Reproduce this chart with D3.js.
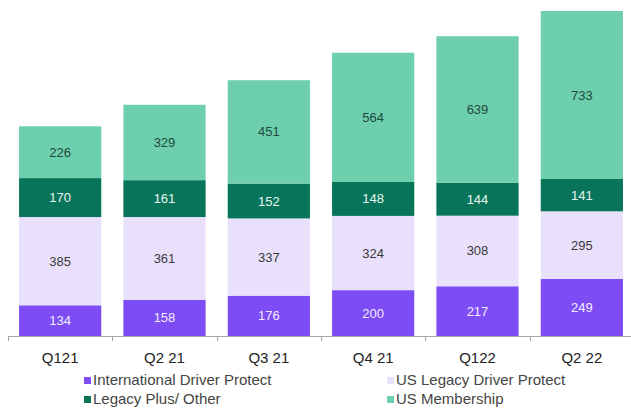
<!DOCTYPE html>
<html><head><meta charset="utf-8">
<script src="https://cdn.jsdelivr.net/npm/d3@7"></script>
<style>body{margin:0;background:#fff}svg{display:block}text{font-family:"Liberation Sans",Arial,sans-serif}</style>
</head><body><div id="c"></div>
<script>
const categories = ["Q121","Q2 21","Q3 21","Q4 21","Q122","Q2 22"];
const seriesNames = ["International Driver Protect","US Legacy Driver Protect","Legacy Plus/ Other","US Membership"];
const intlDriverProtect = [134,158,176,200,217,249];
const usLegacyDriverProtect = [385,361,337,324,308,295];
const legacyPlusOther = [170,161,152,148,144,141];
const usMembership = [226,329,451,564,639,733];
const colors = ["#7d4cf5","#e9e1fc","#08755a","#6dcfad"];
const labelColors = ["#f1ecff","#3a3a3a","#e8f5ef","#1f4a3e"];

const W=631,H=410;
const svg=d3.select("#c").append("svg").attr("width",W).attr("height",H);
const keys=["a","b","c","d"];
const rows=categories.map((c,i)=>({cat:c,a:intlDriverProtect[i],b:usLegacyDriverProtect[i],c:legacyPlusOther[i],d:usMembership[i]}));
const stack=d3.stack().keys(keys)(rows);
const x=d3.scaleBand().domain(categories).range([8,634]).paddingInner(0.212).paddingOuter(0.106);
const y=d3.scaleLinear().domain([0,1418]).range([336,11]);

stack.forEach((s,si)=>{
  const g=svg.append("g");
  g.selectAll("rect").data(s).join("rect")
    .attr("x",d=>x(d.data.cat)).attr("width",x.bandwidth())
    .attr("y",d=>y(d[1])).attr("height",d=>y(d[0])-y(d[1]))
    .attr("fill",colors[si]);
  g.selectAll("text").data(s).join("text")
    .attr("x",d=>x(d.data.cat)+x.bandwidth()/2)
    .attr("y",d=>(y(d[0])+y(d[1]))/2+4.5)
    .attr("text-anchor","middle").attr("font-size",13)
    .attr("fill",labelColors[si]).text(d=>d[1]-d[0]);
});

// axis
const step=x.step();
svg.append("line").attr("x1",8).attr("x2",634).attr("y1",336.5).attr("y2",336.5).attr("stroke","#a6a6a6");
const bounds=d3.range(categories.length+1).map(i=>x.range()[0]+i*step);
svg.selectAll(".tk").data(bounds).join("line").attr("class","tk")
  .attr("x1",d=>Math.round(d)+0.5).attr("x2",d=>Math.round(d)+0.5).attr("y1",336).attr("y2",341).attr("stroke","#a6a6a6");
svg.selectAll(".xl").data(categories).join("text").attr("class","xl")
  .attr("x",d=>x(d)+x.bandwidth()/2).attr("y",363).attr("text-anchor","middle")
  .attr("font-size",15).attr("fill","#222").text(d=>d);

// legend
const legPos=[[84,385],[387,385],[84,404],[387,404]];
const legOrder=[0,1,2,3];
legOrder.forEach((si,i)=>{
  const [lx,ly]=legPos[i];
  svg.append("rect").attr("x",lx).attr("y",ly-8).attr("width",7).attr("height",7).attr("fill",colors[si]);
  svg.append("text").attr("x",lx+9).attr("y",ly).attr("font-size",15).attr("fill","#444").text(seriesNames[si]);
});
</script></body></html>
